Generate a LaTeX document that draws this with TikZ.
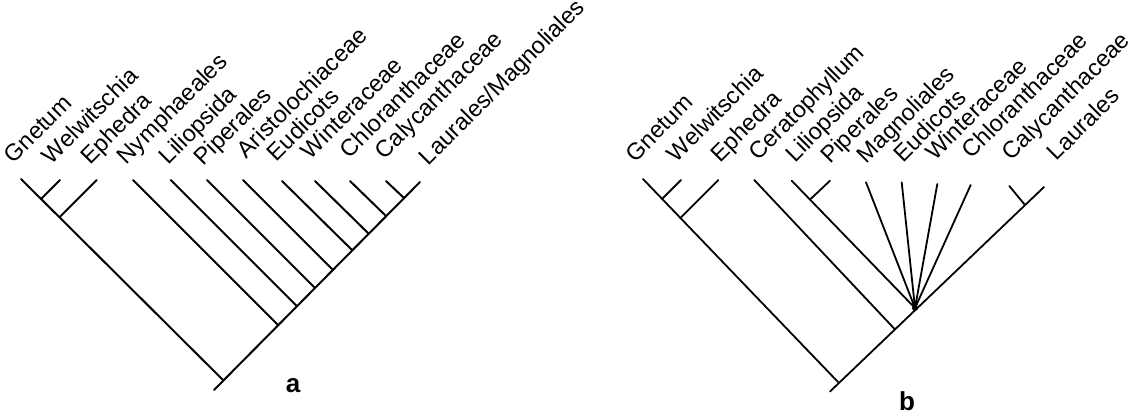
\documentclass[tikz,border=0pt]{standalone}
\usepackage{fontspec}
\setmainfont{Liberation Sans}
\begin{document}
\begin{tikzpicture}[x=1pt,y=-1pt,
  br/.style={line width=2pt, line cap=round},
  brb/.style={line width=1.8pt, line cap=round},
  lab/.style={rotate=45, anchor=base west, inner sep=0pt, xshift=2.5pt, font=\fontsize{23.5}{26}\selectfont},
  panel/.style={font=\bfseries\fontsize{26}{28}\selectfont, inner sep=0pt}]
\useasboundingbox (0,0) rectangle (1146,416);

% ---------------- panel a ----------------
\coordinate (aRoot) at (223,380);
\coordinate (aBase) at (214,390);
\coordinate (aGne) at (21,179);
\coordinate (aWel) at (60,180);
\coordinate (aEph) at (96.7,180);
\coordinate (aNym) at (133,180);
\coordinate (aLil) at (170.7,180);
\coordinate (aPip) at (207,180);
\coordinate (aAri) at (243,180);
\coordinate (aEud) at (282,181);
\coordinate (aWin) at (315,181);
\coordinate (aChl) at (350,181);
\coordinate (aCal) at (386,181);
\coordinate (aLau) at (420,182);
\coordinate (ajWel) at (41.05,198.95);
\coordinate (ajEph) at (59.45,217.25);
\coordinate (ajNym) at (277.9,324.9);
\coordinate (ajLil) at (296.7,306);
\coordinate (ajPip) at (314.8,287.8);
\coordinate (ajAri) at (332.7,269.7);
\coordinate (ajEud) at (352.2,250.2);
\coordinate (ajWin) at (368.6,233.6);
\coordinate (ajChl) at (386.1,216.1);
\coordinate (ajCal) at (404,198);

\draw[br] (aGne) -- (aRoot);
\draw[br] (aBase) -- (aLau);
\draw[br] (aWel) -- (ajWel);
\draw[br] (aEph) -- (ajEph);
\draw[br] (aNym) -- (ajNym);
\draw[br] (aLil) -- (ajLil);
\draw[br] (aPip) -- (ajPip);
\draw[br] (aAri) -- (ajAri);
\draw[br] (aEud) -- (ajEud);
\draw[br] (aWin) -- (ajWin);
\draw[br] (aChl) -- (ajChl);
\draw[br] (aCal) -- (ajCal);

\node[lab] (laGne) at (12,166) {Gnetum};
\node[lab] (laWel) at (50,167) {Welwitschia};
\node[lab] (laEph) at (88.3,167) {Ephedra};
\node[lab] (laNym) at (125,167) {Nymphaeales};
\node[lab] (laLil) at (167,167) {Liliopsida};
\node[lab] (laPip) at (201.7,168.3) {Piperales};
\node[lab] (laAri) at (245,161) {Aristolochiaceae};
\node[lab] (laEud) at (275,164) {Eudicots};
\node[lab] (laWin) at (309,162) {Winteraceae};
\node[lab] (laChl) at (348,161) {Chloranthaceae};
\node[lab] (laCal) at (383,162) {Calycanthaceae};
\node[lab] (laLau) at (427,168) {Laurales/Magnoliales};

\node[panel] (pa) at (293,386) {a};

% ---------------- panel b ----------------
\coordinate (bRoot) at (838,382);
\coordinate (bBase) at (830,391.5);
\coordinate (bGne) at (643,179);
\coordinate (bWel) at (681,180);
\coordinate (bEph) at (718.3,180);
\coordinate (bCer) at (754.3,180);
\coordinate (bLil) at (791.7,180.7);
\coordinate (bPip) at (830,180.7);
\coordinate (bMag) at (866,182.3);
\coordinate (bEud) at (901.7,182.3);
\coordinate (bWin) at (937.3,184);
\coordinate (bChl) at (970.7,185);
\coordinate (bCal) at (1009.3,186);
\coordinate (bLau) at (1044,187);
\coordinate (bjWel) at (662.1,198.9);
\coordinate (bjEph) at (680.4,217.9);
\coordinate (bjCer) at (894.3,328.7);
\coordinate (bjPip) at (810,199.6);
\coordinate (bPoly) at (915,308);
\coordinate (bjCal) at (1025,205);

\draw[brb] (bGne) -- (bRoot);
\draw[brb] (bBase) -- (bLau);
\draw[brb] (bWel) -- (bjWel);
\draw[brb] (bEph) -- (bjEph);
\draw[brb] (bCer) -- (bjCer);
\draw[brb] (bLil) -- (bPoly);
\draw[brb] (bPip) -- (bjPip);
\draw[brb] (bMag) -- (bPoly);
\draw[brb] (bEud) -- (bPoly);
\draw[brb] (bWin) -- (bPoly);
\draw[brb] (bChl) -- (bPoly);
\draw[brb] (bCal) -- (bjCal);
\fill (bPoly) ++(0,-4) circle (2.6);
\fill (bPoly) circle (3);

\node[lab] (lbGne) at (633.3,165) {Gnetum};
\node[lab] (lbWel) at (675,165) {Welwitschia};
\node[lab] (lbEph) at (718.3,165) {Ephedra};
\node[lab] (lbCer) at (756.7,163.3) {Ceratophyllum};
\node[lab] (lbLil) at (793.3,165) {Liliopsida};
\node[lab] (lbPip) at (828.3,166.7) {Piperales};
\node[lab] (lbMag) at (865,166.7) {Magnoliales};
\node[lab] (lbEud) at (901.7,165) {Eudicots};
\node[lab] (lbWin) at (933.3,163.3) {Winteraceae};
\node[lab] (lbChl) at (970,161.7) {Chloranthaceae};
\node[lab] (lbCal) at (1010,163.3) {Calycanthaceae};
\node[lab] (lbLau) at (1055,163.3) {Laurales};

\node[panel] (pb) at (907,401) {b};
\end{tikzpicture}
\end{document}
